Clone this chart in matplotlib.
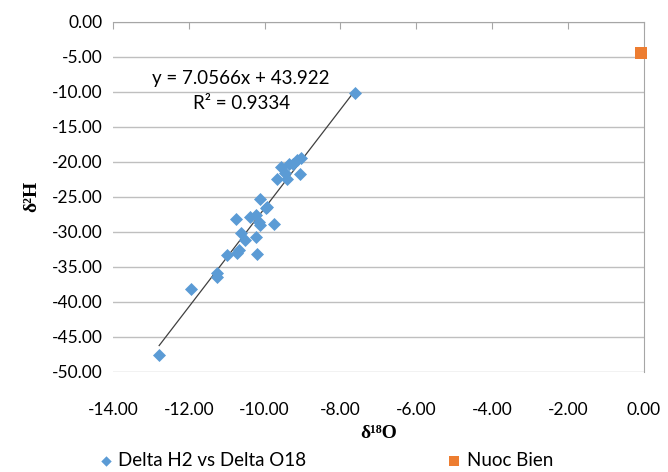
import matplotlib
matplotlib.use("Agg")
from matplotlib import pyplot as plt
import numpy as np

# delta O18 / delta H2 pairs
d18o = [-12.78, -11.95, -11.25, -11.25, -11.00, -10.76, -10.74, -10.68, -10.63, -10.53,
        -10.39, -10.24, -10.24, -10.21, -10.12, -10.12, -10.16, -9.97, -9.93, -9.74,
        -9.67, -9.58, -9.40, -9.45, -9.36, -9.25, -9.14, -9.05, -9.07, -7.61]
d2h = [-47.61, -38.19, -35.94, -36.51, -33.33, -28.19, -33.09, -32.61, -30.23, -31.19,
       -27.86, -27.61, -30.71, -33.19, -25.33, -29.04, -28.57, -26.66, -26.43, -28.94,
       -22.47, -20.71, -22.47, -21.66, -20.33, -20.33, -19.76, -19.51, -21.80, -10.23]

# sea water point
sea_o = [-0.08]
sea_h = [-4.4]

slope = 7.0566
intercept = 43.922
r2 = 0.9334

plt.rcParams["font.family"] = ["Lato", "DejaVu Sans"]

fig = plt.figure(figsize=(6.68, 4.72), dpi=100)
ax = fig.add_axes([0.169, 0.2125, 0.795, 0.7415])

ax.scatter(d18o, d2h, marker="D", s=44, color="#5B9BD5", linewidths=0, zorder=3,
           label="Delta H2 vs Delta O18")
ax.scatter(sea_o, sea_h, marker="s", s=85, color="#ED7D31", linewidths=0, zorder=3,
           label="Nuoc Bien", clip_on=False)

fit_x = np.array([min(d18o), max(d18o)])
ax.plot(fit_x, slope * fit_x + intercept, color="#404040", linewidth=0.9, zorder=2)

ax.text(-10.63, -6.9, f"y = {slope}x + {intercept}", fontsize=13.5, ha="center", va="top")
ax.text(-10.6, -10.5, f"R² = {r2}", fontsize=13.5, ha="center", va="top")

ax.set_xlim(-14, 0)
ax.set_ylim(-50, 0)
ax.set_xticks(np.arange(-14, 0.1, 2))
ax.set_yticks(np.arange(-50, 0.1, 5))
ax.set_xticklabels([f"{v:.2f}" for v in np.arange(-14, 0.1, 2)])
ax.set_yticklabels([f"{v:.2f}" for v in np.arange(-50, 0.1, 5)])

ax.grid(axis="y", color="#BFBFBF", linewidth=1)
ax.set_axisbelow(True)
for side in ["left", "bottom"]:
    ax.spines[side].set_visible(False)
for side in ["top", "right"]:
    ax.spines[side].set_color("#A6A6A6")
ax.tick_params(axis="x", bottom=False, top=True, labelbottom=True, labeltop=False,
               direction="in", length=5, color="#A6A6A6", labelsize=12.5, pad=22)
ax.tick_params(axis="y", left=False, right=False, labelsize=12.5, pad=4)

ax.set_xlabel("δ¹⁸O", fontsize=14, fontweight="bold",
              family=["Liberation Serif", "DejaVu Serif"], labelpad=5)
ax.set_ylabel("δ²H", fontsize=14, fontweight="bold",
              family=["Liberation Serif", "DejaVu Serif"], labelpad=8)

fig.legend(loc="center left", bbox_to_anchor=(0.125, 0.025), ncol=2, frameon=False,
           fontsize=13.5, columnspacing=7.6, handlelength=0.6, handletextpad=0.35,
           markerscale=0.8)

plt.savefig("out.png", dpi=100)
